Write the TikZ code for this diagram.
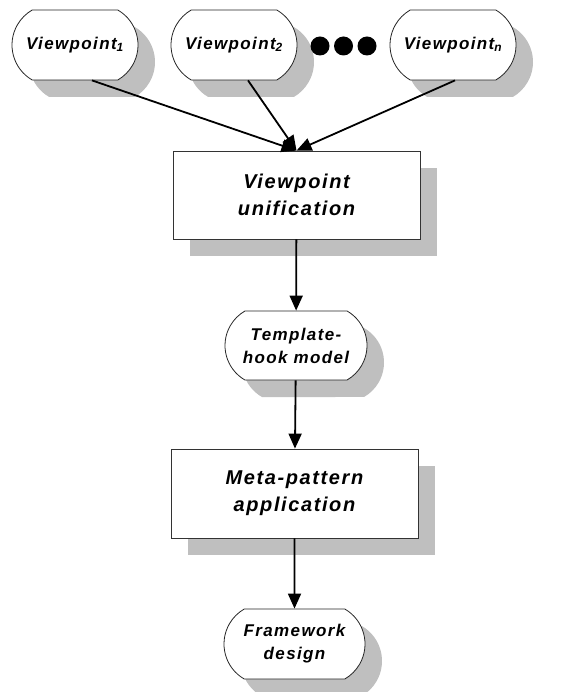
\documentclass[tikz,border=0pt]{standalone}
\usepackage{fontspec}
\setmainfont{Liberation Sans}
\newfontfamily\flowfont[LetterSpace=8]{Liberation Sans}
\usetikzlibrary{arrows.meta,shapes.misc,shadows}

\tikzset{
	boxshadow/.style={drop shadow={shadow xshift=17pt, shadow yshift=-17pt, fill=black!25, opacity=1}},
	pill/.style={rounded rectangle, rounded rectangle arc length=120, draw=black!85, line width=0.8pt, fill=white, boxshadow, inner sep=0pt, minimum height=70pt, align=center, font=\flowfont\bfseries\itshape\fontsize{17}{23}\selectfont},
	viewpill/.style={pill, minimum width=126pt, font=\flowfont\bfseries\itshape\fontsize{17}{21}\selectfont},
	stepbox/.style={rectangle, draw=black!80, line width=0.8pt, fill=white, boxshadow, inner sep=0pt, minimum width=247pt, minimum height=88pt, align=center, font=\flowfont\bfseries\itshape\fontsize{20}{27}\selectfont},
	flow/.style={line width=1.8pt, -{Triangle[length=15pt,width=13pt]}}
}

\begin{document}
\begin{tikzpicture}[x=1pt, y=-1pt]
			%%%%% START %%%%%
			\useasboundingbox (0, 0) rectangle (584, 692);
			
			\node[viewpill] (view1) at (75, 45) {Viewpoint\textsubscript{1}};
			\node[viewpill] (view2) at (234, 45) {Viewpoint\textsubscript{2}};
			\node[viewpill] (viewn) at (453, 45) {Viewpoint\textsubscript{n}};
			
			\foreach \dx in {320, 343.5, 367}
				\fill[black] (\dx, 46) circle (9.5pt);
			
			\node[stepbox] (unify) at (296.5, 195) {Viewpoint\\unification};
			\node[pill, minimum width=142pt, minimum height=69pt] (hooks) at (296, 345.5) {Template-\\hook model};
			\node[stepbox, minimum height=89pt] (metapat) at (294.5, 493.5) {Meta-pattern\\application};
			\node[pill, minimum width=141pt] (framework) at (294.5, 644) {Framework\\design};
			
			\draw[flow] ([xshift=17pt]view1.south) -- (unify.north);
			\draw[flow] ([xshift=14pt]view2.south) -- (unify.north);
			\draw[flow] ([xshift=2pt]viewn.south) -- (unify.north);
			
			\draw[flow] (unify) -- (hooks);
			\draw[flow] (hooks) -- (metapat);
			\draw[flow] (metapat) -- (framework);
			%%%%% END %%%%%
\end{tikzpicture}
\end{document}
